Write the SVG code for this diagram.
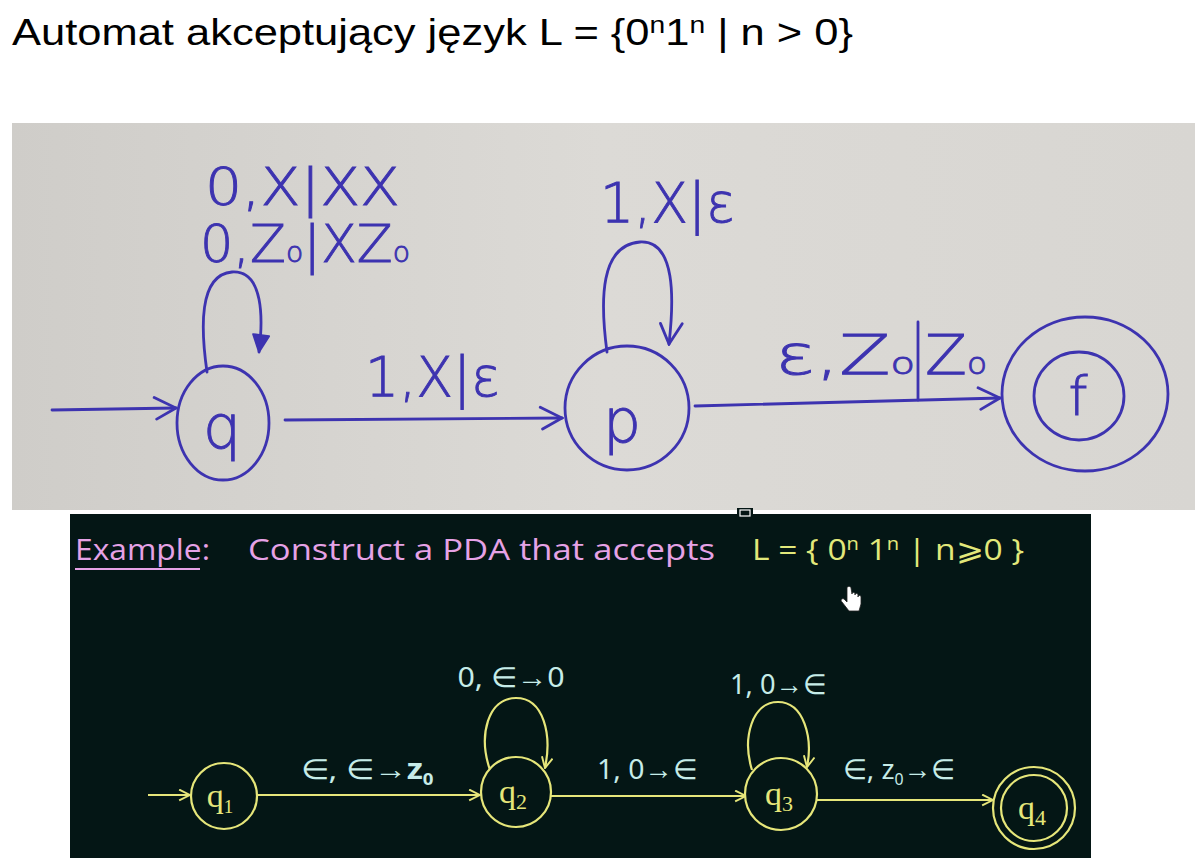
<svg xmlns="http://www.w3.org/2000/svg" width="1200" height="858" viewBox="0 0 1200 858">
<defs>
<linearGradient id="paper" x1="0" y1="0" x2="1" y2="0">
<stop offset="0" stop-color="#cfcdc9"/><stop offset="0.5" stop-color="#dcdad6"/><stop offset="1" stop-color="#d8d6d2"/>
</linearGradient>
<marker id="ya" viewBox="0 0 12 12" refX="11" refY="6" markerWidth="13" markerHeight="13" markerUnits="userSpaceOnUse" orient="auto">
<path d="M1 1 L11 6 L1 11" fill="none" stroke="#e6e67a" stroke-width="1.8"/>
</marker>
<marker id="ba" viewBox="0 0 24 24" refX="22" refY="12" markerWidth="26" markerHeight="26" markerUnits="userSpaceOnUse" orient="auto">
<path d="M2 2 L22 12 L4 22" fill="none" stroke="#3d33b0" stroke-width="2.6" stroke-linecap="round"/>
</marker>
<marker id="bt" viewBox="0 0 24 24" refX="20" refY="12" markerWidth="24" markerHeight="24" markerUnits="userSpaceOnUse" orient="auto">
<path d="M3 4 L20 12 L3 20 Z" fill="#3d33b0" stroke="#3d33b0" stroke-width="2" stroke-linejoin="round"/>
</marker>
</defs>
<style>
.title{font-family:"Liberation Sans",Arial,sans-serif;font-size:37px;fill:#000}
.ink{fill:none;stroke:#3d33b0;stroke-width:2.8;stroke-linecap:round}
.hw{font-family:"DejaVu Sans","Liberation Sans",sans-serif;font-weight:200;fill:#3d33b0;stroke:#3d33b0;stroke-width:0.9}
.yl{fill:none;stroke:#e6e67a;stroke-width:2.2}
.yn{fill:#041615;stroke:#e6e67a;stroke-width:2.2}
.lab{font-family:"Noto Sans","Liberation Sans",sans-serif;font-size:28px;fill:#c6ece8}
.st{font-family:"Liberation Serif",serif;font-size:34px;fill:#e6e67a}
.pk{font-family:"Open Sans","Liberation Sans",sans-serif;font-size:30px;fill:#e6a2e6}
.yt{font-family:"Open Sans","Liberation Sans",sans-serif;font-size:30px;fill:#e2e87a}
</style>
<rect width="1200" height="858" fill="#ffffff"/>
<text class="title" x="12" y="45" textLength="841" lengthAdjust="spacingAndGlyphs">Automat akceptujący język L = {0<tspan font-size="24" dy="-12">n</tspan><tspan dy="12">1</tspan><tspan font-size="24" dy="-12">n</tspan><tspan dy="12"> | n &gt; 0}</tspan></text>

<rect id="photo" x="12" y="123" width="1183" height="387" fill="url(#paper)"/>

<g id="hand-connectors">
<path class="ink" d="M52 410 L176 408" marker-end="url(#ba)"/>
<path class="ink" d="M207 372 C201 330 198 275 232 272 C264 270 263 320 259 352" marker-end="url(#bt)"/>
<path class="ink" d="M285 420 L562 418" marker-end="url(#ba)"/>
<path class="ink" d="M607 352 C600 300 600 245 640 242 C676 240 674 300 669 344" marker-end="url(#ba)"/>
<path class="ink" d="M695 406 L1000 398" marker-end="url(#ba)"/>
<line class="ink" x1="918" y1="322" x2="918" y2="400"/>
<text class="hw" x="205" y="205" font-size="52" textLength="195" lengthAdjust="spacingAndGlyphs">0,X|XX</text>
<text class="hw" x="200" y="262" font-size="52" textLength="210" lengthAdjust="spacingAndGlyphs">0,Z<tspan font-size="28">o</tspan>|XZ<tspan font-size="28">o</tspan></text>
<text class="hw" x="365" y="396" font-size="56" textLength="135" lengthAdjust="spacingAndGlyphs">1,X|ε</text>
<text class="hw" x="600" y="222" font-size="56" textLength="135" lengthAdjust="spacingAndGlyphs">1,X|ε</text>
<text class="hw" x="775" y="374" font-size="56" textLength="140" lengthAdjust="spacingAndGlyphs">ε,Z<tspan font-size="30">o</tspan></text>
<text class="hw" x="925" y="374" font-size="56" textLength="62" lengthAdjust="spacingAndGlyphs">Z<tspan font-size="30">o</tspan></text>
</g>

<g id="hand-q">
<ellipse class="ink" cx="223" cy="423" rx="46" ry="57"/>
<text class="hw" x="222" y="448" font-size="60" text-anchor="middle">q</text>
</g>
<g id="hand-p">
<ellipse class="ink" cx="627" cy="408" rx="62" ry="62"/>
<text class="hw" x="622" y="442" font-size="60" text-anchor="middle">p</text>
</g>
<g id="hand-f">
<ellipse class="ink" cx="1085" cy="394" rx="83" ry="77"/>
<ellipse class="ink" cx="1079" cy="396" rx="45" ry="44"/>
<text class="hw" x="1078" y="415" font-size="54" text-anchor="middle">f</text>
</g>

<rect id="board" x="70" y="514" width="1021" height="344" fill="#041615"/>
<rect x="737" y="508" width="16" height="10" fill="#041615"/>
<rect x="740" y="510" width="10" height="6" fill="none" stroke="#ffffff" stroke-width="1.2"/>

<text class="pk" x="75" y="560" textLength="135" lengthAdjust="spacingAndGlyphs">Example:</text>
<line x1="75" y1="569" x2="200" y2="569" stroke="#e6a2e6" stroke-width="2"/>
<text class="pk" x="248" y="560" textLength="467" lengthAdjust="spacingAndGlyphs">Construct a PDA that accepts</text>
<text class="yt" x="752" y="560" textLength="272" lengthAdjust="spacingAndGlyphs">L = { 0<tspan font-size="18" dy="-10">n</tspan><tspan dy="10"> 1</tspan><tspan font-size="18" dy="-10">n</tspan><tspan dy="10"> | n⩾0 }</tspan></text>

<g id="cursor">
<path d="M847 588 L847 602 L844 599 C842 598 840 600 842 602 L849 611 L859 611 L861 604 L861 597 C861 595 858 595 858 597 L858 595 C858 593 855 593 855 595 L855 594 C855 592 852 592 852 594 L851 588 C851 586 847 586 847 588 Z" fill="#ffffff" stroke="#222" stroke-width="0.8"/>
</g>

<g id="connectors">
<line class="yl" x1="148" y1="795" x2="190" y2="795" marker-end="url(#ya)"/>
<line class="yl" x1="257" y1="795" x2="480" y2="795" marker-end="url(#ya)"/>
<path class="yl" d="M490 770 C478 735 488 698 516 698 C544 698 552 735 545 768" marker-end="url(#ya)"/>
<line class="yl" x1="551" y1="796" x2="746" y2="796" marker-end="url(#ya)"/>
<path class="yl" d="M752 770 C742 738 752 702 778 702 C804 702 813 738 807 767" marker-end="url(#ya)"/>
<line class="yl" x1="817" y1="800" x2="993" y2="800" marker-end="url(#ya)"/>
<text class="lab" x="367" y="779" text-anchor="middle" textLength="133" lengthAdjust="spacingAndGlyphs">∈, ∈→<tspan font-weight="bold">z</tspan><tspan font-size="16" dy="6" font-weight="bold">0</tspan></text>
<text class="lab" x="511" y="687" text-anchor="middle" textLength="107" lengthAdjust="spacingAndGlyphs">0, ∈→0</text>
<text class="lab" x="647" y="779" text-anchor="middle" textLength="100" lengthAdjust="spacingAndGlyphs">1, 0→∈</text>
<text class="lab" x="778" y="694" text-anchor="middle" textLength="96" lengthAdjust="spacingAndGlyphs">1, 0→∈</text>
<text class="lab" x="899" y="779" text-anchor="middle" textLength="112" lengthAdjust="spacingAndGlyphs">∈, z<tspan font-size="16" dy="6">0</tspan><tspan dy="-6">→∈</tspan></text>
</g>

<g id="q1">
<circle class="yn" cx="224" cy="796" r="33"/>
<text class="st" x="220" y="807" text-anchor="middle">q<tspan font-size="19" dy="6">1</tspan></text>
</g>
<g id="q2">
<circle class="yn" cx="516" cy="792" r="35"/>
<text class="st" x="513" y="803" text-anchor="middle">q<tspan font-size="22" dy="6">2</tspan></text>
</g>
<g id="q3">
<circle class="yn" cx="781" cy="794" r="36"/>
<text class="st" x="779" y="805" text-anchor="middle">q<tspan font-size="22" dy="6">3</tspan></text>
</g>
<g id="q4">
<circle class="yn" cx="1034" cy="808" r="41"/>
<circle class="yn" cx="1034" cy="808" r="33"/>
<text class="st" x="1032" y="819" text-anchor="middle">q<tspan font-size="22" dy="6">4</tspan></text>
</g>
</svg>
